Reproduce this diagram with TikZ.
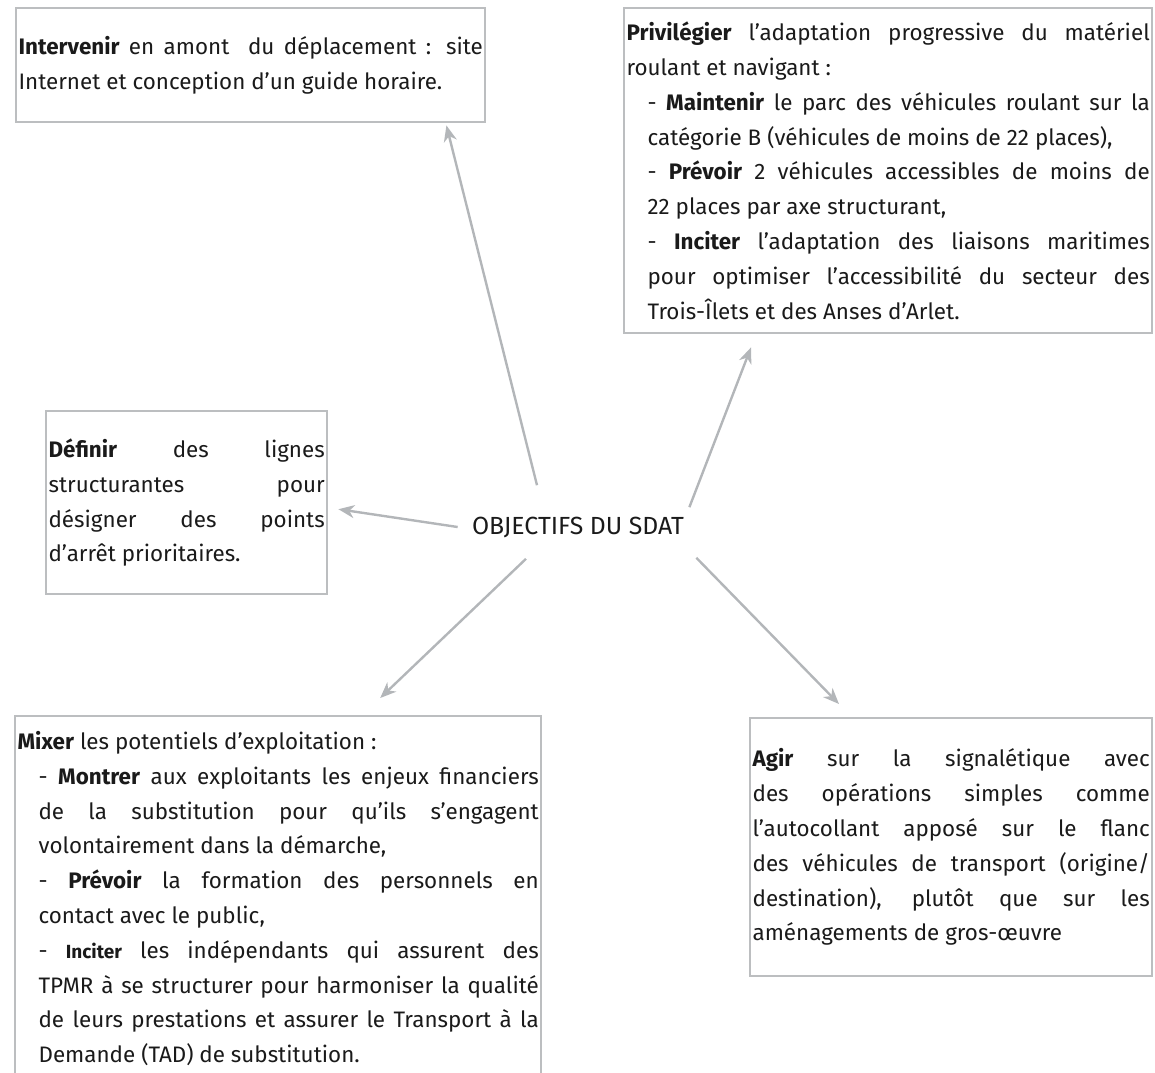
\documentclass[tikz,border=0pt]{standalone}
\usepackage{fontspec}
\setmainfont{Fira Sans}
\usepackage{xcolor}
\usepackage{tikz}
\usetikzlibrary{arrows.meta,calc}

\definecolor{framegray}{HTML}{BCBEC0}
\definecolor{arrowgray}{HTML}{B3B6B9}
\definecolor{textblack}{HTML}{1A1A1A}

% indented sub-point of a box
\newcommand{\objitem}[1]{\par{\leftskip=10.5pt - #1\par}}

\begin{document}
\begin{tikzpicture}[
    x=0.5pt, y=-0.5pt,
    box/.style={rectangle, draw=framegray, line width=1.2pt, anchor=north west, inner xsep=1.2pt, inner ysep=0pt, align=justify, text=textblack, font=\fontsize{11.2}{17.4}\selectfont},
    title/.style={text=textblack, font=\fontsize{12.4}{14}\selectfont, inner sep=0pt},
    arrow/.style={draw=arrowgray, line width=1.2pt, -{Stealth[length=8pt,width=6.5pt,inset=2.5pt]}}
]
\clip (0,0) rectangle (1155,1072);

\node (obj) [title] at (578,527) {OBJECTIFS DU SDAT};

\node (interv) [box, text width=232.1pt, minimum height=57pt] at (15,7)
  {\textbf{Intervenir} en amont \ du déplacement : site\linebreak
   Internet et conception d’un guide horaire.};

\node (privil) [box, text width=261.6pt, minimum height=162.5pt] at (623,7)
  {\textbf{Privilégier} l’adaptation progressive du matériel\linebreak
   roulant et navigant :
   \objitem{\textbf{Maintenir} le parc des véhicules roulant sur la\linebreak catégorie B (véhicules de moins de 22 places),}
   \objitem{\textbf{Prévoir} 2 véhicules accessibles de moins de\linebreak 22 places par axe structurant,}
   \objitem{\textbf{Inciter} l’adaptation des liaisons maritimes\linebreak pour optimiser l’accessibilité du secteur des\linebreak Trois-Îlets et des Anses d’Arlet.}};

\node (defin) [box, text width=138.1pt, minimum height=91.5pt] at (45,410)
  {\textbf{Définir} des lignes\linebreak structurantes pour\linebreak
   désigner des points\linebreak d’arrêt prioritaires.};

\node (mixer) [box, text width=260.6pt, minimum height=182.5pt] at (14,715)
  {\textbf{Mixer} les potentiels d’exploitation :
   \objitem{\textbf{Montrer} aux exploitants les enjeux financiers\linebreak de la substitution pour qu’ils s’engagent\linebreak volontairement dans la démarche,}
   \objitem{\textbf{Prévoir} la formation des personnels en\linebreak contact avec le public,}
   \objitem{{\fontsize{9.5}{17.4}\selectfont\bfseries Inciter} les indépendants qui assurent des\linebreak TPMR à se structurer pour harmoniser la qualité\linebreak de leurs prestations et assurer le Transport à la\linebreak Demande (TAD) de substitution.}};

\node (agir) [box, text width=198.6pt, minimum height=129pt] at (749,717)
  {\textbf{Agir} sur la signalétique avec\linebreak des opérations simples comme\linebreak
   l’autocollant apposé sur le flanc\linebreak des véhicules de transport (origine/\linebreak
   destination), plutôt que sur les\linebreak aménagements de gros-œuvre};

% Arrows
\draw [arrow] ($(obj.north)+(-41,-31)$) -- ($(interv.south east)+(-40,2)$);
\draw [arrow] ($(obj.north east)+(5,-9)$) -- ($(privil.south west)+(128,13)$);
\draw [arrow] ($(obj.west)+(-14,0)$) -- ($(defin.east)+(10,6.5)$);
\draw [arrow] ($(obj.south)+(-52,21)$) -- ($(mixer.north)+(102,-17)$);
\draw [arrow] ($(obj.south east)+(12,20)$) -- ($(agir.north west)+(90,-13)$);

\end{tikzpicture}
\end{document}
